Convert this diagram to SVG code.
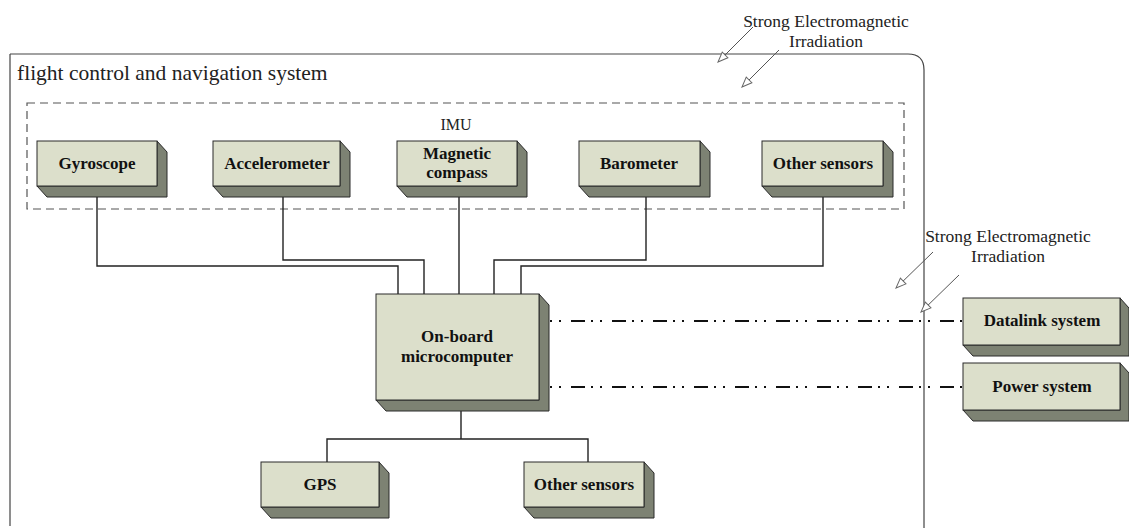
<svg xmlns="http://www.w3.org/2000/svg" width="1129" height="528" viewBox="0 0 1129 528">
<defs>
<style>
.face{fill:#dcdfcb;stroke:#2a2a2a;stroke-width:1}
.side{fill:#7d8273;stroke:#2a2a2a;stroke-width:1;stroke-linejoin:round}
.lbl{font-family:"Liberation Serif","Times New Roman",serif;font-weight:bold;font-size:17px;fill:#111;text-anchor:middle}
.txt{font-family:"Liberation Serif","Times New Roman",serif;font-size:17.5px;fill:#222}
.title{font-size:21.5px}
.imu{font-size:16px}
.conn{fill:none;stroke:#222;stroke-width:1.4}
.dd{fill:none;stroke:#111;stroke-width:2.2;stroke-dasharray:2 7 2 10 14 6}
.ray{stroke:#555;stroke-width:1;fill:none;marker-end:url(#open)}
</style>
<marker id="open" viewBox="0 0 12 10" refX="11" refY="5" markerWidth="12" markerHeight="10" markerUnits="userSpaceOnUse" orient="auto">
<path d="M1,1 L11,5 L1,9 Z" fill="#fff" stroke="#666" stroke-width="1"/>
</marker>
</defs>
<rect width="1129" height="528" fill="#fff"/>

<g id="system">
<path d="M10,54 H908 Q924,54 924,70 V528 M10,54 V526" fill="none" stroke="#444" stroke-width="1.2"/>
<text class="txt title" x="17" y="80">flight control and navigation system</text>
</g>

<g id="imu">
<rect x="27" y="103" width="877" height="106" fill="none" stroke="#555" stroke-width="1.2" stroke-dasharray="8 5"/>
<text class="txt imu" x="456" y="130" text-anchor="middle">IMU</text>
</g>

<g id="connectors">
<polyline class="conn" points="97,197 97,266 398,266 398,294"/>
<polyline class="conn" points="283,197 283,260 424,260 424,294"/>
<polyline class="conn" points="459,197 459,294"/>
<polyline class="conn" points="646,197 646,260 494,260 494,294"/>
<polyline class="conn" points="823,197 823,266 521,266 521,294"/>
<polyline class="conn" points="461,411 461,439"/>
<polyline class="conn" points="327,462 327,439 588,439 588,462"/>
<line class="dd" x1="550" y1="321" x2="962" y2="321"/>
<line class="dd" x1="550" y1="387" x2="962" y2="387"/>
</g>

<g id="gyroscope">
<polygon class="side" points="157,141 167,152 167,197 47,197 37,186 157,186"/>
<rect class="face" x="37" y="141" width="120" height="45"/>
<text class="lbl" x="97" y="169">Gyroscope</text>
</g>
<g id="accelerometer">
<polygon class="side" points="340,141 350,152 350,197 223,197 213,186 340,186"/>
<rect class="face" x="213" y="141" width="127" height="45"/>
<text class="lbl" x="277" y="169">Accelerometer</text>
</g>
<g id="magnetic-compass">
<polygon class="side" points="517,141 527,152 527,197 407,197 397,186 517,186"/>
<rect class="face" x="397" y="141" width="120" height="45"/>
<text class="lbl" x="457" y="159">Magnetic</text>
<text class="lbl" x="457" y="178">compass</text>
</g>
<g id="barometer">
<polygon class="side" points="700,141 710,152 710,197 589,197 579,186 700,186"/>
<rect class="face" x="579" y="141" width="121" height="45"/>
<text class="lbl" x="639" y="169">Barometer</text>
</g>
<g id="other-sensors-imu">
<polygon class="side" points="883,141 893,152 893,197 772,197 762,186 883,186"/>
<rect class="face" x="762" y="141" width="121" height="45"/>
<text class="lbl" x="823" y="169">Other sensors</text>
</g>

<g id="microcomputer">
<polygon class="side" points="539,294 549,305 549,411 386,411 376,400 539,400"/>
<rect class="face" x="376" y="294" width="163" height="106"/>
<text class="lbl" x="457" y="342">On-board</text>
<text class="lbl" x="457" y="362">microcomputer</text>
</g>

<g id="gps">
<polygon class="side" points="379,462 389,473 389,518 271,518 261,507 379,507"/>
<rect class="face" x="261" y="462" width="118" height="45"/>
<text class="lbl" x="320" y="490">GPS</text>
</g>
<g id="other-sensors-bottom">
<polygon class="side" points="644,462 654,473 654,518 534,518 524,507 644,507"/>
<rect class="face" x="524" y="462" width="120" height="45"/>
<text class="lbl" x="584" y="490">Other sensors</text>
</g>

<g id="datalink">
<polygon class="side" points="1120,298 1129,308 1129,356 973,356 963,345 1120,345"/>
<rect class="face" x="963" y="298" width="157" height="47"/>
<text class="lbl" x="1042" y="326">Datalink system</text>
</g>
<g id="power">
<polygon class="side" points="1120,363 1129,373 1129,421 973,421 963,410 1120,410"/>
<rect class="face" x="963" y="363" width="157" height="47"/>
<text class="lbl" x="1042" y="392">Power system</text>
</g>

<g id="irradiation-top">
<text class="txt" x="826" y="27" text-anchor="middle">Strong Electromagnetic</text>
<text class="txt" x="826" y="47" text-anchor="middle">Irradiation</text>
<line class="ray" x1="753" y1="27" x2="718" y2="62"/>
<line class="ray" x1="779" y1="50" x2="742" y2="87"/>
</g>
<g id="irradiation-right">
<text class="txt" x="1008" y="242" text-anchor="middle">Strong Electromagnetic</text>
<text class="txt" x="1008" y="262" text-anchor="middle">Irradiation</text>
<line class="ray" x1="933" y1="252" x2="896" y2="288"/>
<line class="ray" x1="959" y1="275" x2="921" y2="312"/>
</g>
</svg>
